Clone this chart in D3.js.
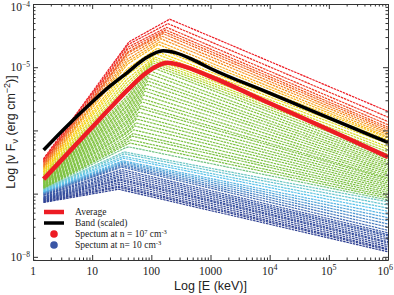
<!DOCTYPE html>
<meta charset="utf-8">
<script src="https://d3js.org/d3.v7.min.js"></script>
<style>
  body { margin: 0; background: #fff; }
  .tlabel { font-family: "Liberation Serif", "Times New Roman", serif; font-size: 11.5px; fill: #222; }
  .title { font-family: "Liberation Sans", Arial, sans-serif; font-size: 12.5px; fill: #222; }
  .legend { font-family: "Liberation Serif", "Times New Roman", serif; font-size: 9.5px; fill: #222; }
  .axis path, .axis line { stroke: #333; }
</style>
<svg id="chart" width="394" height="295"></svg>
<script>
// ---- data (log10 values) ----
// spectra, bottom (blue, n = 10) to top (red, n = 10^7)
const startE = 1.5, endE = 1e6;
const startF = [-7.14,-7.13,-7.12,-7.11,-7.10,-7.09,-7.08,-7.07,-7.06,-7.05,-7.03,-7.02,
  -7.01,-7.00,-6.99,-6.99,-6.98,-6.97, -6.96,-6.95,-6.94,-6.93,
  -6.92,-6.91,-6.91,-6.90,-6.89,-6.89,-6.88,-6.87,-6.87,-6.86,-6.85,-6.84,-6.84,-6.83,-6.82,-6.82,-6.81,-6.80,-6.80,-6.79,-6.78,-6.78,-6.77,-6.76,
  -6.74,-6.73,-6.71,-6.70, -6.68,-6.66,-6.65,-6.63, -6.61,-6.59,-6.58,-6.56,-6.54, -6.52,-6.50,-6.49,-6.47,-6.45];
const breakE = [1.45,1.45,1.46,1.46,1.47,1.47,1.48,1.48,1.49,1.49,1.50,1.50,
  1.50,1.51,1.51,1.52,1.52,1.52, 1.53,1.53,1.54,1.54,
  1.55,1.55,1.55,1.56,1.56,1.56,1.56,1.57,1.57,1.57,1.57,1.58,1.58,1.58,1.58,1.59,1.59,1.59,1.59,1.60,1.60,1.60,1.60,1.60,
  1.60,1.60,1.60,1.60, 1.60,1.60,1.60,1.60, 1.60,1.60,1.60,1.60,1.60, 1.60,1.60,1.61,1.61,1.62];
const breakF = [-6.93,-6.90,-6.88,-6.85,-6.82,-6.79,-6.77,-6.74,-6.71,-6.68,-6.65,-6.62,
  -6.58,-6.56,-6.54,-6.52,-6.50,-6.48, -6.44,-6.41,-6.37,-6.34,
  -6.28,-6.24,-6.21,-6.17,-6.14,-6.10,-6.06,-6.03,-5.99,-5.96,-5.92,-5.88,-5.85,-5.81,-5.78,-5.74,-5.70,-5.67,-5.63,-5.60,-5.56,-5.52,-5.49,-5.45,
  -5.38,-5.33,-5.28,-5.23, -5.18,-5.12,-5.07,-5.02, -4.95,-4.91,-4.87,-4.82,-4.78, -4.76,-4.72,-4.68,-4.64,-4.60];
const peakE = [1.45,1.45,1.46,1.46,1.47,1.47,1.48,1.48,1.49,1.49,1.50,1.50,
  1.50,1.51,1.51,1.52,1.52,1.52, 1.53,1.53,1.54,1.54,
  1.62,1.64,1.65,1.67,1.69,1.70,1.72,1.74,1.75,1.77,1.79,1.80,1.82,1.84,1.85,1.87,1.89,1.90,1.92,1.94,1.95,1.97,1.98,2.00,
  2.00,2.02,2.03,2.05, 2.06,2.08,2.09,2.10, 2.12,2.14,2.16,2.18,2.20, 2.22,2.24,2.26,2.28,2.31];
const peakF = [-6.93,-6.90,-6.88,-6.85,-6.82,-6.79,-6.77,-6.74,-6.71,-6.68,-6.65,-6.62,
  -6.58,-6.56,-6.54,-6.52,-6.50,-6.48, -6.44,-6.41,-6.37,-6.34,
  -6.26,-6.20,-6.15,-6.09,-6.05,-5.99,-5.93,-5.88,-5.82,-5.77,-5.71,-5.65,-5.61,-5.55,-5.50,-5.44,-5.38,-5.33,-5.27,-5.22,-5.17,-5.11,-5.06,-5.00,
  -4.96,-4.93,-4.90,-4.87, -4.84,-4.79,-4.75,-4.70, -4.64,-4.60,-4.55,-4.51,-4.47, -4.44,-4.41,-4.37,-4.31,-4.24];
const endF = [-7.92,-7.89,-7.87,-7.84,-7.81,-7.78,-7.76,-7.73,-7.70,-7.67,-7.65,-7.62,
  -7.58,-7.53,-7.48,-7.43,-7.38,-7.33, -7.28,-7.23,-7.18,-7.13,
  -7.10,-7.07,-7.04,-7.01,-6.98,-6.95,-6.92,-6.89,-6.86,-6.83,-6.80,-6.77,-6.75,-6.72,-6.69,-6.66,-6.63,-6.60,-6.57,-6.54,-6.51,-6.48,-6.45,-6.42,
  -6.38,-6.34,-6.30,-6.26, -6.21,-6.18,-6.15,-6.12, -6.10,-6.07,-6.04,-6.01,-5.98, -5.95,-5.91,-5.86,-5.79,-5.70];

// thick curves
const avgE  = [0.18, 0.5, 1.0, 1.3, 1.6, 1.9, 2.1, 2.27, 2.5, 3.0, 4.0, 5.0, 6.0];
const avgF  = [-6.77, -6.45, -5.95, -5.65, -5.36, -5.10, -4.98, -4.93, -4.97, -5.15, -5.57, -5.99, -6.42];
const bandE = [0.18, 0.5, 1.0, 1.3, 1.6, 1.9, 2.2, 2.4, 2.7, 3.0, 4.0, 5.0, 6.0];
const bandF = [-6.31, -6.0, -5.55, -5.30, -5.08, -4.86, -4.74, -4.77, -4.88, -5.02, -5.41, -5.80, -6.19];

// ticks / labels
const xLabels = [[1, "1", ""], [10, "10", ""], [100, "100", ""], [1000, "1000", ""], [1e4, "10", "4"], [1e5, "10", "5"], [1e6, "10", "6"]];
const yLabels = [[1e-4, "10", "\u22124"], [1e-5, "10", "\u22125"], [1e-8, "10", "\u22128"]];
const legendNames = ["Average", "Band (scaled)", "Spectum at n = 10|7| cm|-3", "Spectum at n= 10 cm|-3"];

// ---- layout ----
const L = 33, R = 388, T = 4, B = 260;
const svg = d3.select("#chart");
const x = d3.scaleLog().domain([1, 1e6]).range([L, R]);
const y = d3.scaleLog().domain([Math.pow(10, -8.05), 1e-4]).range([B, T]);

const colorIdx = [0, 11, 14, 18, 21, 23, 45, 48, 52, 55, 58, 63];
const colorVal = ["#2d3f92", "#3b5aa8", "#4a86c6", "#5bc3ec", "#6cc6c2", "#7ac143", "#86c440",
  "#c9da2c", "#fbd50f", "#f8a41b", "#f26a23", "#ed1c24"];
const color = d3.scaleLinear().domain(colorIdx).range(colorVal);

const line = d3.line().x(p => x(Math.pow(10, p[0]))).y(p => y(Math.pow(10, p[1])));

svg.append("clipPath").attr("id", "plot")
  .append("rect").attr("x", L).attr("y", T).attr("width", R - L).attr("height", B - T);
const plot = svg.append("g").attr("clip-path", "url(#plot)");

const spectra = startF.map((f0, i) => [
  [Math.log10(startE), f0], [breakE[i], breakF[i]], [peakE[i], peakF[i]], [Math.log10(endE), endF[i]]
]);

plot.selectAll(".spec")
  .data(spectra)
  .enter()
  .append("path")
  .attr("class", "spec")
  .attr("d", line)
  .attr("fill", "none")
  .attr("stroke", (d, i) => color(i))
  .attr("stroke-width", 1.2)
  .attr("stroke-dasharray", "2.5,0.8");

const smooth = d3.line().curve(d3.curveMonotoneX)
  .x(p => x(Math.pow(10, p[0]))).y(p => y(Math.pow(10, p[1])));

plot.append("path")
  .attr("d", smooth(bandE.map((e, i) => [e, bandF[i]])))
  .attr("fill", "none").attr("stroke", "#000").attr("stroke-width", 3.5);

plot.append("path")
  .attr("d", smooth(avgE.map((e, i) => [e, avgF[i]])))
  .attr("fill", "none").attr("stroke", "#ed1c24").attr("stroke-width", 4.5);

// ---- axes ----
const isMajor = v => Math.abs(Math.log10(v) - Math.round(Math.log10(v))) < 1e-6;
const xt = x.ticks();
const yt = y.ticks().filter(v => v <= 1e-4 * 1.0001);

function ticks(g, axis, vals, sign) {
  g.attr("class", "axis")
    .call(axis.tickValues(vals).tickFormat("").tickSizeOuter(0))
    .call(a => a.selectAll(".tick line").attr(sign.attr, d => sign.k * (isMajor(d) ? 5 : 2.5)));
}
svg.append("g").attr("transform", `translate(0,${B})`)
  .call(g => ticks(g, d3.axisBottom(x), xt, {attr: "y2", k: -1}));
svg.append("g").attr("transform", `translate(0,${T})`)
  .call(g => ticks(g, d3.axisTop(x), xt, {attr: "y2", k: 1}));
svg.append("g").attr("transform", `translate(${L},0)`)
  .call(g => ticks(g, d3.axisLeft(y), yt, {attr: "x2", k: 1}));
svg.append("g").attr("transform", `translate(${R},0)`)
  .call(g => ticks(g, d3.axisRight(y), yt, {attr: "x2", k: -1}));

// tick labels
xLabels.forEach(([v, base, sup]) => {
  const t = svg.append("text").attr("class", "tlabel")
    .attr("x", x(v)).attr("y", 275).attr("text-anchor", "middle");
  t.append("tspan").text(base);
  if (sup) t.append("tspan").attr("dy", -5).style("font-size", "8px").text(sup);
  const w = t.node().getComputedTextLength();
  if (x(v) + w / 2 > 393) t.attr("x", 393 - w / 2);
});
yLabels.forEach(([v, base, sup]) => {
  const t = svg.append("text").attr("class", "tlabel")
    .attr("x", 30).attr("y", Math.max(y(v) + 4, 11)).attr("text-anchor", "end");
  t.append("tspan").text(base);
  t.append("tspan").attr("dy", -4).style("font-size", "7.5px").text(sup);
});

// titles
svg.append("text").attr("class", "title")
  .attr("x", (L + R) / 2).attr("y", 290).attr("text-anchor", "middle")
  .text("Log [E (keV)]");
const yt1 = svg.append("text").attr("class", "title")
  .attr("transform", `translate(15,${(T + B) / 2}) rotate(-90)`).attr("text-anchor", "middle");
yt1.append("tspan").text("Log [\u03bd F");
yt1.append("tspan").attr("dy", 3).style("font-size", "9px").text("\u03bd");
yt1.append("tspan").attr("dy", -3).text(" (erg cm");
yt1.append("tspan").attr("dy", -5).style("font-size", "9px").text("\u22122");
yt1.append("tspan").attr("dy", 5).text(")]");

// ---- legend ----
const lg = svg.append("g");
const rows = [212, 223, 234, 245];
lg.append("line").attr("x1", 44).attr("x2", 64).attr("y1", rows[0]).attr("y2", rows[0])
  .attr("stroke", "#ed1c24").attr("stroke-width", 4.5);
lg.append("line").attr("x1", 44).attr("x2", 64).attr("y1", rows[1]).attr("y2", rows[1])
  .attr("stroke", "#000").attr("stroke-width", 3.5);
lg.append("circle").attr("cx", 54).attr("cy", rows[2]).attr("r", 3.8).attr("fill", "#ed1c24");
lg.append("circle").attr("cx", 54).attr("cy", rows[3]).attr("r", 3.8).attr("fill", "#3a56a5");

legendNames.forEach((s, i) => {
  const t = lg.append("text").attr("class", "legend").attr("x", 75).attr("y", rows[i] + 3);
  s.split("|").forEach((part, k) => {
    const ts = t.append("tspan").text(part);
    if (k % 2 === 1) ts.attr("dy", -3).style("font-size", "6.5px");
    else if (k > 0) ts.attr("dy", 3);
  });
});
</script>
